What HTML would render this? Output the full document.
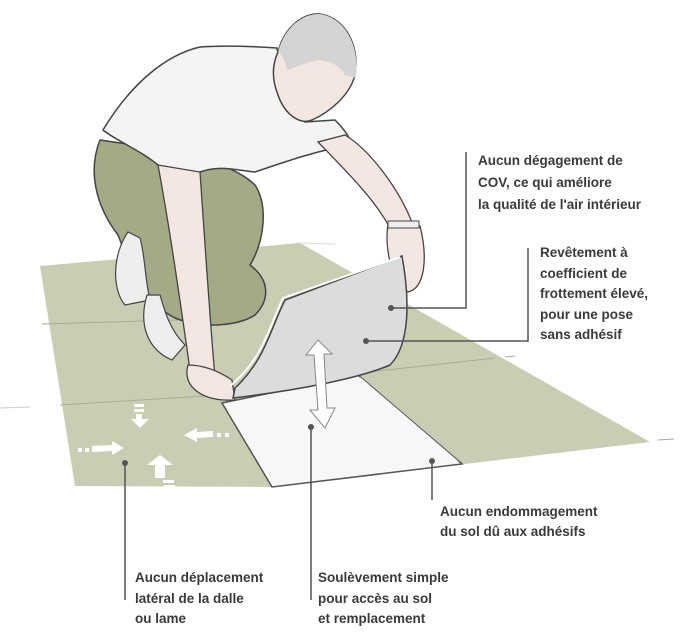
<!DOCTYPE html>
<html><head><meta charset="utf-8"><style>
body{margin:0;background:#fff;}
svg{display:block}
text{font-family:"Liberation Sans",sans-serif;font-size:13.5px;font-weight:bold;fill:#3a3a3a}
</style></head><body>
<svg width="699" height="637" viewBox="0 0 699 637" xmlns="http://www.w3.org/2000/svg">
<!-- floor -->
<polygon points="40,266 300,243 650,442 272,487 75,486" fill="#c8cdb3"/>
<line x1="42" y1="324" x2="250" y2="318" stroke="#a8ae93" stroke-width="1"/>
<line x1="60" y1="405" x2="205" y2="396" stroke="#a8ae93" stroke-width="1"/>
<line x1="360" y1="373" x2="495" y2="358" stroke="#a8ae93" stroke-width="1"/>
<line x1="505" y1="357" x2="515" y2="356" stroke="#aaa" stroke-width="1"/>
<line x1="658" y1="440" x2="674" y2="439" stroke="#aaa" stroke-width="1"/>
<line x1="0" y1="408" x2="30" y2="407" stroke="#ccc" stroke-width="1"/>
<line x1="295" y1="243" x2="335" y2="244" stroke="#ddd" stroke-width="1"/>
<!-- empty tile -->
<polygon points="222,403 358,375 462,464 272,487" fill="#f7f7f7" stroke="#555" stroke-width="1.5"/>
<line x1="360" y1="378" x2="458" y2="462" stroke="#fff" stroke-width="1.5"/>
<!-- pants -->
<path d="M100,140 C88,170 95,205 118,235 C130,265 140,300 175,318 C205,330 240,325 255,315 C270,300 270,280 250,265 C265,240 268,205 255,185 C230,160 170,150 100,140Z" fill="#a2ab85" stroke="#444" stroke-width="1.5"/>
<!-- shoes -->
<path d="M128,232 C112,255 112,290 125,305 L150,300 C145,280 145,255 140,238Z" fill="#eee" stroke="#444" stroke-width="1.2"/>
<path d="M147,295 C138,325 148,350 172,360 L185,345 C170,330 165,312 160,295Z" fill="#eee" stroke="#444" stroke-width="1.2"/>
<!-- shirt -->
<path d="M103,130 C130,85 165,55 200,47 C230,45 262,47 277,48 C282,80 290,110 305,122 L335,120 C345,130 352,140 350,145 C320,150 290,160 255,172 C235,170 220,165 200,172 C180,180 165,180 158,165 C140,150 115,140 103,130Z" fill="#f4f4f3" stroke="#444" stroke-width="1.5"/>
<!-- head -->
<path d="M278,52 C285,25 305,13 320,14 C345,18 360,45 355,75 C350,95 330,112 312,120 C300,125 285,115 278,95 C272,80 272,65 278,52Z" fill="#f4e6e1" stroke="#444" stroke-width="1.5"/>
<path d="M278,52 C285,25 305,13 320,14 C345,18 360,45 356,78 L345,75 C340,65 330,62 320,60 C305,62 295,68 287,70 C285,60 282,55 278,52Z" fill="#d4d4d4"/>
<!-- left arm -->
<path d="M158,165 C170,230 180,300 190,370 L215,378 C210,320 205,245 200,172Z" fill="#f4e6e1" stroke="#444" stroke-width="1.3"/>
<path d="M188,365 C182,385 200,402 235,400 L232,380 C220,372 205,365 188,365Z" fill="#f4e6e1" stroke="#444" stroke-width="1.3"/>
<!-- right arm -->
<path d="M318,142 C350,175 375,200 390,228 L413,225 C400,190 370,150 345,135Z" fill="#f4e6e1" stroke="#444" stroke-width="1.3"/>
<path d="M388,224 C384,250 393,285 408,292 C425,288 428,258 420,226Z" fill="#f4e6e1" stroke="#444" stroke-width="1.3"/>
<rect x="388" y="221" width="31" height="7" fill="#eee" stroke="#444" stroke-width="1"/>
<!-- lifted tile -->
<path d="M402,256 L285,300 C270,330 265,360 235,388 L233,398 C300,390 360,378 390,365 C410,345 410,300 402,256Z" fill="#dcdcdc" stroke="#444" stroke-width="1.5"/>
<path d="M400,257 L283,298 C268,330 262,360 230,386" fill="none" stroke="#fff" stroke-width="2"/>
<!-- double arrow -->
<path d="M318,340 L306,355 L314,355 L318,410 L310,410 L325,428 L335,408 L327,408 L324,354 L332,354Z" fill="#fff" stroke="#888" stroke-width="1"/>
<!-- small arrows -->
<g fill="#fff">
<rect x="134" y="404" width="10" height="3"/><rect x="134" y="409" width="10" height="3"/>
<polygon points="136,414 142,414 142,419 149,419 140,428 131,419 136,419"/>
<rect x="78" y="448" width="4" height="4"/><rect x="85" y="448" width="4" height="4"/>
<polygon points="92,446 112,445 112,441 124,448 112,455 112,451 92,452"/>
<rect x="225" y="433" width="4" height="4"/><rect x="217" y="433" width="4" height="4"/>
<polygon points="213,431 197,432 197,428 184,435 197,442 197,438 213,437"/>
<polygon points="160,455 147,465 155,465 155,478 165,478 165,465 173,465"/>
<rect x="163" y="480" width="11" height="3"/><rect x="164" y="485" width="11" height="3"/>
</g>
<!-- leaders -->
<g stroke="#555" stroke-width="1.5" fill="none">
<polyline points="466,152 466,308 391,308"/>
<polyline points="528,248 528,341 366,341"/>
<line x1="432" y1="461" x2="432" y2="500"/>
<line x1="125" y1="463" x2="125" y2="600"/>
<line x1="311" y1="427" x2="311" y2="600"/>
</g>
<g fill="#555">
<circle cx="391" cy="308" r="3"/><circle cx="366" cy="341" r="3"/><circle cx="432" cy="461" r="3"/><circle cx="125" cy="463" r="3"/><circle cx="311" cy="427" r="3"/>
</g>
<!-- labels -->
<text x="478" y="165">Aucun dégagement de</text>
<text x="478" y="187">COV, ce qui améliore</text>
<text x="478" y="209">la qualité de l'air intérieur</text>
<text x="540" y="257">Revêtement à</text>
<text x="540" y="278">coefficient de</text>
<text x="540" y="298">frottement élevé,</text>
<text x="540" y="319">pour une pose</text>
<text x="540" y="339">sans adhésif</text>
<text x="440" y="516">Aucun endommagement</text>
<text x="440" y="536">du sol dû aux adhésifs</text>
<text x="135" y="582">Aucun déplacement</text>
<text x="135" y="603">latéral de la dalle</text>
<text x="135" y="623">ou lame</text>
<text x="318" y="582">Soulèvement simple</text>
<text x="318" y="603">pour accès au sol</text>
<text x="318" y="623">et remplacement</text>
</svg>
</body></html>
